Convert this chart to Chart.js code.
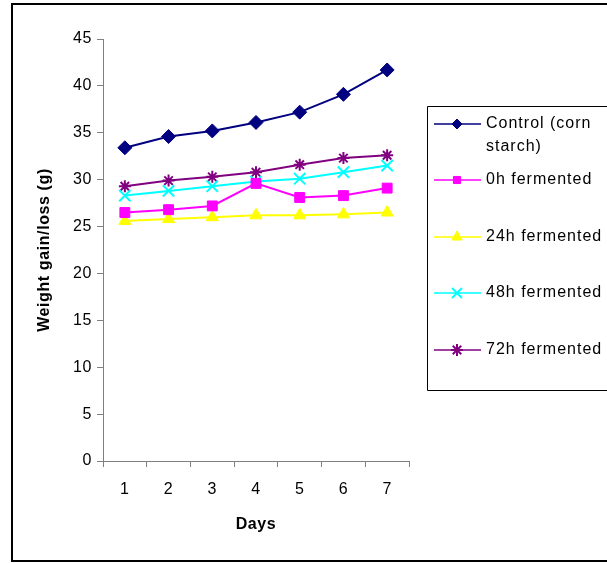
<!DOCTYPE html>
<html>
<head>
<meta charset="utf-8">
<script src="https://cdn.jsdelivr.net/npm/chart.js@4"></script>
<style>
  html, body { margin: 0; padding: 0; background: #fff; }
  #wrap { width: 607px; height: 563px; position: relative; }
</style>
</head>
<body>
<div id="wrap"><canvas id="weightChart" width="607" height="563"></canvas></div>
<script>
const days = ["1", "2", "3", "4", "5", "6", "7"];
const yTicks = [0, 5, 10, 15, 20, 25, 30, 35, 40, 45];

const control = [33.4, 34.6, 35.2, 36.1, 37.2, 39.1, 41.7];
const ferm0h = [26.5, 26.8, 27.2, 29.6, 28.1, 28.3, 29.1];
const ferm24h = [25.6, 25.8, 26.0, 26.2, 26.2, 26.3, 26.5];
const ferm48h = [28.3, 28.8, 29.3, 29.8, 30.1, 30.8, 31.5];
const ferm72h = [29.3, 29.9, 30.3, 30.8, 31.6, 32.3, 32.6];

const legendLabels = [["Control (corn", "starch)"], ["0h fermented"], ["24h fermented"], ["48h fermented"], ["72h fermented"]];

const font = "Liberation Sans, Arial, sans-serif";

// Excel draws its text a bit wider
const spacingPlugin = {
  id: "spacing",
  beforeDraw(chart) { chart.ctx.letterSpacing = "0.6px"; }
};

// Outer frame + legend box drawn like the Excel chart
const framePlugin = {
  id: "frame",
  afterDraw(chart) {
    const ctx = chart.ctx;
    ctx.save();
    ctx.strokeStyle = "#000";
    ctx.lineWidth = 2;
    ctx.beginPath();
    ctx.moveTo(620, 4);
    ctx.lineTo(12, 4);
    ctx.lineTo(12, 561);
    ctx.lineTo(620, 561);
    ctx.stroke();

    ctx.lineWidth = 1;
    ctx.beginPath();
    ctx.moveTo(620, 106.5);
    ctx.lineTo(427.5, 106.5);
    ctx.lineTo(427.5, 390.5);
    ctx.lineTo(620, 390.5);
    ctx.stroke();

    // legend entries
    const rowY = [124, 180, 237, 293, 350];
    const markSize = [5, 5, 6, 7, 6];
    ctx.font = "16px " + font;
    ctx.letterSpacing = "1px";
    ctx.textBaseline = "middle";
    chart.data.datasets.forEach((ds, i) => {
      const y = rowY[i];
      ctx.strokeStyle = ds.borderColor;
      ctx.lineWidth = 1.5;
      ctx.beginPath();
      ctx.moveTo(434, y);
      ctx.lineTo(481, y);
      ctx.stroke();
      ctx.fillStyle = ds.backgroundColor;
      ctx.lineWidth = ds.pointBorderWidth;
      Chart.helpers.drawPoint(ctx, {
        pointStyle: ds.pointStyle,
        radius: markSize[i],
        borderWidth: ds.pointBorderWidth
      }, 457, y);
      ctx.fillStyle = "#000";
      legendLabels[i].forEach((t, k) => ctx.fillText(t, 486, y + k * 23));
    });
    ctx.restore();
  }
};

function series(label, data, color, style, radius) {
  return {
    label,
    data,
    borderColor: color,
    backgroundColor: color,
    pointBackgroundColor: color,
    pointBorderColor: color,
    borderWidth: 2,
    pointStyle: style,
    pointRadius: radius,
    pointHoverRadius: radius,
    pointBorderWidth: (style === "crossRot" || style === "star") ? 2 : 1,
    tension: 0
  };
}

new Chart(document.getElementById("weightChart"), {
  type: "line",
  data: {
    labels: days,
    datasets: [
      series("Control (corn starch)", control, "#000080", "rectRot", 7),
      series("0h fermented", ferm0h, "#FF00FF", "rect", 7),
      series("24h fermented", ferm24h, "#FFFF00", "triangle", 7),
      series("48h fermented", ferm48h, "#00FFFF", "crossRot", 8),
      series("72h fermented", ferm72h, "#800080", "star", 6)
    ]
  },
  options: {
    responsive: false,
    animation: false,
    layout: { padding: { top: 39, left: 31, right: 198, bottom: 25 } },
    plugins: { legend: { display: false }, tooltip: { enabled: false } },
    scales: {
      x: {
        offset: true,
        grid: { display: true, drawOnChartArea: false, offset: true, tickLength: 6, color: "#808080" },
        border: { color: "#808080", width: 1 },
        ticks: { color: "#000", font: { family: font, size: 16 }, padding: 13, maxRotation: 0 },
        title: { display: true, text: "Days", color: "#000", font: { family: font, size: 16, weight: "bold" }, padding: { top: 13 } },
        afterFit(scale) { scale.height = 77; }
      },
      y: {
        min: 0,
        max: 45,
        afterBuildTicks(scale) { scale.ticks = yTicks.map(v => ({ value: v })); },
        grid: { display: true, drawOnChartArea: false, tickLength: 6, color: "#808080" },
        border: { color: "#808080", width: 1 },
        ticks: { color: "#000", font: { family: font, size: 16 }, padding: 5 },
        title: { display: true, text: "Weight gain/loss (g)", color: "#000", font: { family: font, size: 16, weight: "bold" }, padding: { bottom: 6 } },
        afterFit(scale) { scale.width = 72; }
      }
    }
  },
  plugins: [spacingPlugin, framePlugin]
});
</script>
</body>
</html>
